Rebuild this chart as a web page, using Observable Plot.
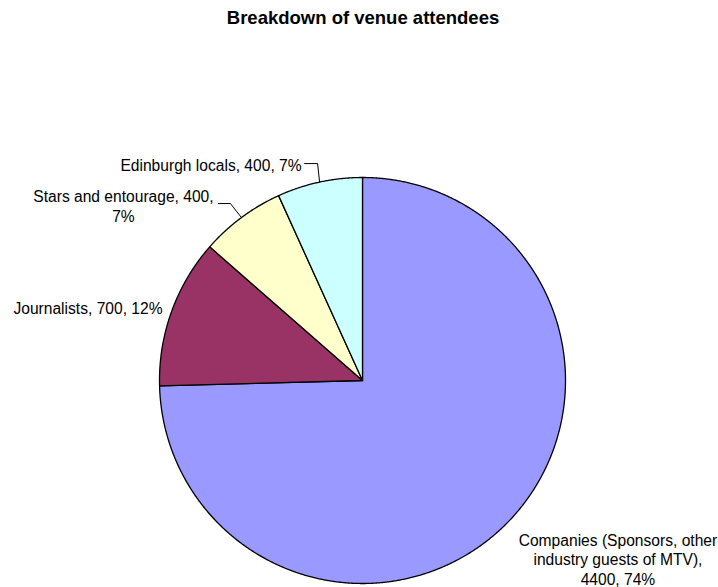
<!DOCTYPE html>
<html><head><meta charset="utf-8">
<script src="https://cdn.jsdelivr.net/npm/d3@7"></script>
<script src="https://cdn.jsdelivr.net/npm/@observablehq/plot@0.6"></script>
<style>
body{margin:0;background:#fff;font-family:Arial,"Liberation Sans",sans-serif;}
#title{height:40px;box-sizing:border-box;padding-top:8px;padding-left:8px;text-align:center;font-weight:bold;font-size:18.5px;line-height:20px;color:#000;}
</style>
</head><body>
<div id="title"></div>
<div id="chart"></div>
<script>
const title = "Breakdown of venue attendees";
const categories = ["Companies (Sponsors, other industry guests of MTV)", "Journalists", "Stars and entourage", "Edinburgh locals"];
const values = [4400, 700, 400, 400];
const percents = ["74%", "12%", "7%", "7%"];
const colors = ["#9999FF", "#993366", "#FFFFCC", "#CCFFFF"];
const labelTexts = [
  "Companies (Sponsors, other\nindustry guests of MTV),\n4400, 74%",
  "Journalists, 700, 12%",
  "Stars and entourage, 400,\n7%",
  "Edinburgh locals, 400, 7%"
];

// layout (pixels)
const W = 718, H = 547, cx = 362, cy = 340, R = 203;
const labelLayout = [
  {dx: 110, dy: 37, anchor: "middle"},
  {dx: -9, dy: -4, anchor: "end"},
  {dx: -118, dy: -12, anchor: "middle"},
  {dx: -18, dy: -17.5, anchor: "end"}
];
const leaderLayout = [null, null,
  [[-11, -14], [-23, -14]],
  [[-2, -18.5], [-15, -18.5]]
];

document.getElementById("title").textContent = title;

const arcs = d3.pie().sort(null).startAngle(0).endAngle(2 * Math.PI)(values);
const slicePts = [];
arcs.forEach((a, i) => {
  slicePts.push({name: categories[i], x: 0, y: 0, c: colors[i]});
  const n = Math.max(4, Math.ceil((a.endAngle - a.startAngle) / 0.005));
  for (let k = 0; k <= n; k++) {
    const t = a.startAngle + (a.endAngle - a.startAngle) * k / n;
    slicePts.push({name: categories[i], x: Math.sin(t), y: Math.cos(t), c: colors[i]});
  }
});

const mids = arcs.map(a => (a.startAngle + a.endAngle) / 2);
const leaders = [];
mids.forEach((m, i) => {
  const L = leaderLayout[i];
  if (!L) return;
  const mx = Math.sin(m), my = Math.cos(m);
  leaders.push({name: categories[i], x: mx, y: my});
  L.forEach(([ox, oy]) => leaders.push({name: categories[i], x: mx + ox / R, y: my - oy / R}));
});

const labelMarks = mids.map((m, i) => {
  const Lb = labelLayout[i];
  return Plot.text([{t: labelTexts[i], x: Math.sin(m) + Lb.dx / R, y: Math.cos(m) - Lb.dy / R}], {
    x: "x", y: "y", text: "t", textAnchor: Lb.anchor, lineAnchor: "middle",
    lineHeight: 1.25, fontSize: 15.6, fill: "#000", fontFamily: "Arial, 'Liberation Sans', sans-serif"
  });
});

const chart = Plot.plot({
  width: W, height: H, margin: 0,
  style: {background: "#fff", overflow: "visible"},
  x: {domain: [-1, 1], range: [cx - R, cx + R], axis: null},
  y: {domain: [-1, 1], range: [cy + R, cy - R], axis: null},
  marks: [
    Plot.line(slicePts, {x: "x", y: "y", z: "name", fill: "c", stroke: "#000", strokeWidth: 1.3, curve: "linear-closed", strokeLinejoin: "round"}),
    Plot.line(leaders, {x: "x", y: "y", z: "name", stroke: "#000", strokeWidth: 1}),
    ...labelMarks
  ]
});
document.getElementById("chart").appendChild(chart);
</script>
</body></html>
